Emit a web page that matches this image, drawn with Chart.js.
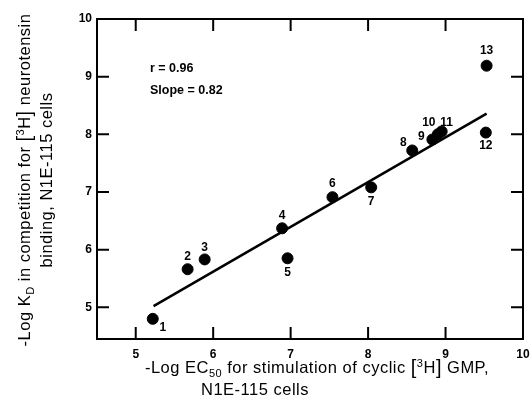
<!DOCTYPE html>
<html>
<head>
<meta charset="utf-8">
<script src="https://cdn.jsdelivr.net/npm/chart.js@4.4.1/dist/chart.umd.min.js"></script>
<style>
  html, body { margin: 0; padding: 0; background: #fff; }
</style>
</head>
<body>
<canvas id="chart" width="530" height="409"></canvas>
<script>
// compounds 1-13
const compoundIds = ['1', '2', '3', '4', '5', '6', '7', '8', '9', '10', '11', '12', '13'];
const logEC50 = [5.22, 5.67, 5.89, 6.89, 6.96, 7.54, 8.04, 8.57, 8.83, 8.90, 8.95, 9.52, 9.53];
const logKD = [4.80, 5.66, 5.83, 6.37, 5.85, 6.91, 7.08, 7.72, 7.91, 8.00, 8.05, 8.03, 9.19];

// regression line end points
const fitX = [5.23, 9.53];
const fitY = [5.02, 8.36];

const xTicks = [5, 6, 7, 8, 9, 10];
const yTicks = [5, 6, 7, 8, 9, 10];

const statsText = ['r = 0.96', 'Slope = 0.82'];

const FONT = '"Liberation Sans", Arial, Helvetica, sans-serif';

// where each number sits relative to its point (px)
const labelOffsets = [
    [10, 9], [0, -13], [0, -12], [0, -13], [0, 14], [0, -13], [0, 14],
    [-9, -8], [-11, -3], [-9, -12], [5, -9], [0, 13], [0, -15]
];

// draws text made of pieces with their own size / baseline shift
function drawRich(ctx, segs, x, y, align) {
    ctx.letterSpacing = '0.5px';
    let w = 0;
    segs.forEach(s => {
        ctx.font = `${s[3] || 'normal'} ${s[1]}px ${FONT}`;
        w += ctx.measureText(s[0]).width;
    });
    let cx = align === 'center' ? x - w / 2 : x;
    ctx.textAlign = 'left';
    ctx.textBaseline = 'alphabetic';
    segs.forEach(s => {
        ctx.font = `${s[3] || 'normal'} ${s[1]}px ${FONT}`;
        ctx.fillText(s[0], cx, y + (s[2] || 0));
        cx += ctx.measureText(s[0]).width;
    });
    ctx.letterSpacing = '0px';
}

const framePlugin = {
    id: 'frame',
    afterDraw(chart) {
        const { ctx, chartArea: a, scales: { x, y } } = chart;
        ctx.save();
        ctx.strokeStyle = '#000';
        ctx.fillStyle = '#000';
        ctx.lineWidth = 2;
        ctx.strokeRect(a.left, a.top, a.right - a.left, a.bottom - a.top);

        // inward tick marks on all four sides
        const len = 12;
        ctx.beginPath();
        x.ticks.forEach(t => {
            const px = x.getPixelForValue(t.value);
            if (px <= a.left + 1 || px >= a.right - 1) return;
            ctx.moveTo(px, a.bottom); ctx.lineTo(px, a.bottom - len);
            ctx.moveTo(px, a.top); ctx.lineTo(px, a.top + len);
        });
        y.ticks.forEach(t => {
            const py = y.getPixelForValue(t.value);
            if (py <= a.top + 1 || py >= a.bottom - 1) return;
            ctx.moveTo(a.left, py); ctx.lineTo(a.left + len, py);
            ctx.moveTo(a.right, py); ctx.lineTo(a.right - len, py);
        });
        ctx.stroke();

        // compound numbers
        const meta = chart.getDatasetMeta(0);
        ctx.font = `bold 12px ${FONT}`;
        ctx.textAlign = 'center';
        ctx.textBaseline = 'middle';
        meta.data.forEach((pt, i) => {
            const off = labelOffsets[i];
            ctx.fillText(compoundIds[i], pt.x + off[0], pt.y + off[1]);
        });

        // r and slope
        ctx.font = `bold 12.5px ${FONT}`;
        ctx.textAlign = 'left';
        ctx.fillText(statsText[0], 150, 69);
        ctx.fillText(statsText[1], 150, 91);

        // x title
        drawRich(ctx, [
            ['-Log EC', 16.5], ['50', 11, 4], [' for stimulation of cyclic ', 16.5],
            ['[', 20, 1], ['3', 11, -6], ['H', 16.5], [']', 20, 1], [' GMP,', 16.5]
        ], 317, 373, 'center');
        drawRich(ctx, [['N1E-115 cells', 16.5]], 255, 395, 'center');

        // y title (rotated)
        ctx.translate(30, 180);
        ctx.rotate(-Math.PI / 2);
        drawRich(ctx, [
            ['-Log K', 16.5], ['D', 11, 4], [' in competition for ', 16.5],
            ['[', 20, 1], ['3', 11, -6], ['H', 16.5], [']', 20, 1], [' neurotensin', 16.5]
        ], 0, 0, 'center');
        drawRich(ctx, [['binding, N1E-115 cells', 16.5]], 0, 22, 'center');
        ctx.restore();
    }
};

new Chart(document.getElementById('chart'), {
    type: 'scatter',
    data: {
        datasets: [
            {
                data: logEC50.map((v, i) => ({ x: v, y: logKD[i] })),
                backgroundColor: '#000',
                borderColor: '#000',
                pointRadius: 5.5,
                order: 0
            },
            {
                data: fitX.map((v, i) => ({ x: v, y: fitY[i] })),
                showLine: true,
                borderColor: '#000',
                borderWidth: 2.5,
                pointRadius: 0,
                order: 1
            }
        ]
    },
    options: {
        responsive: false,
        animation: false,
        devicePixelRatio: 1,
        layout: { padding: { top: 19, right: 7, left: 0, bottom: 0 } },
        plugins: { legend: { display: false }, tooltip: { enabled: false } },
        scales: {
            x: {
                type: 'linear', min: 4.5, max: 10,
                grid: { display: false, drawTicks: false },
                border: { display: false },
                ticks: { color: '#000', font: { family: FONT, size: 12, weight: 'bold' }, padding: 8, maxRotation: 0 },
                afterBuildTicks: s => { s.ticks = xTicks.map(v => ({ value: v })); },
                afterFit: s => { s.height = 70; s.paddingLeft = 0; s.paddingRight = 0; }
            },
            y: {
                type: 'linear', min: 4.45, max: 10,
                grid: { display: false, drawTicks: false },
                border: { display: false },
                ticks: { color: '#000', font: { family: FONT, size: 12, weight: 'bold' }, padding: 5 },
                afterBuildTicks: s => { s.ticks = yTicks.map(v => ({ value: v })); },
                afterFit: s => { s.width = 97; s.paddingTop = 0; s.paddingBottom = 0; }
            }
        }
    },
    plugins: [framePlugin]
});
</script>
</body>
</html>
